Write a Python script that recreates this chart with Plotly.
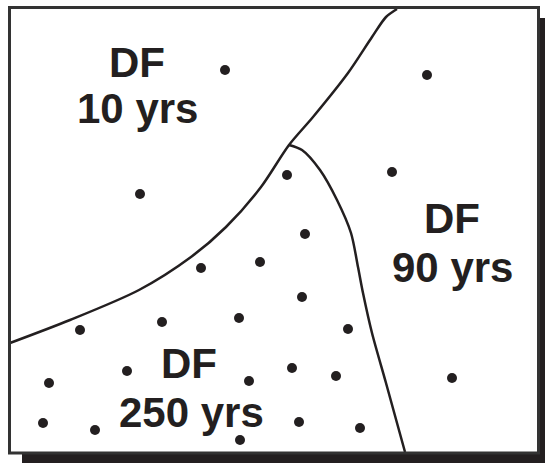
import plotly.graph_objects as go

# sample sites (pixel-like coords, y grows downward)
dot_x = [225, 427, 140, 287, 392, 305, 201, 260, 302, 239, 162, 80, 348,
         49, 127, 249, 292, 336, 452, 43, 95, 240, 299, 360]
dot_y = [70, 75, 194, 175, 172, 234, 268, 262, 297, 318, 322, 330, 329,
         383, 371, 381, 368, 376, 378, 423, 430, 440, 422, 428]

# boundary between 10 yrs and the rest
edge1_x = [10, 70, 139, 191, 226, 261, 289, 313, 348, 372, 386, 397]
edge1_y = [343, 320, 290, 257, 227, 187, 145, 117, 73, 37, 17, 9]

# boundary between 250 yrs and 90 yrs
edge2_x = [289, 302, 320, 337, 351, 358, 363, 372, 386, 405]
edge2_y = [145, 150, 170, 200, 233, 267, 293, 333, 383, 452]

labels = ["DF", "10 yrs", "DF", "90 yrs", "DF", "250 yrs"]
label_x = [137, 137, 452, 452, 189, 191]
label_y = [62, 108, 218, 267, 363, 412]

INK = "#231f20"
W, H = 545, 463

fig = go.Figure()
for ex, ey in [(edge1_x, edge1_y), (edge2_x, edge2_y)]:
    fig.add_trace(go.Scatter(
        x=ex, y=ey, mode="lines",
        line=dict(color=INK, width=2.5, shape="spline", smoothing=0.8),
        hoverinfo="skip",
    ))
fig.add_trace(go.Scatter(
    x=dot_x, y=dot_y, mode="markers",
    marker=dict(color=INK, size=10),
    hoverinfo="skip",
))

for txt, x, y in zip(labels, label_x, label_y):
    fig.add_annotation(
        x=x, y=y, text=txt, showarrow=False, xanchor="center", yanchor="middle",
        font=dict(family="Liberation Sans", size=42, color=INK, weight="bold"),
    )

# drop shadow + frame
fig.add_shape(type="rect", x0=22, x1=W, y0=453, y1=H,
              fillcolor=INK, line_width=0, layer="below")
fig.add_shape(type="rect", x0=538, x1=W, y0=18, y1=H,
              fillcolor=INK, line_width=0, layer="below")
fig.add_shape(type="rect", x0=9.5, x1=538.5, y0=7.5, y1=453,
              line=dict(color="#333333", width=3), fillcolor="rgba(0,0,0,0)")

fig.update_xaxes(range=[0, W], visible=False, fixedrange=True)
fig.update_yaxes(range=[H, 0], visible=False, fixedrange=True)
fig.update_layout(
    width=W, height=H,
    margin=dict(l=0, r=0, t=0, b=0),
    plot_bgcolor="white", paper_bgcolor="white",
    showlegend=False,
)
# drop the default 8px page margin so the figure sits at the window corner
fig.write_html(
    "out.html",
    config={"displayModeBar": False, "staticPlot": True},
    post_script="document.body.style.margin='0px';document.body.style.overflow='hidden';",
)
